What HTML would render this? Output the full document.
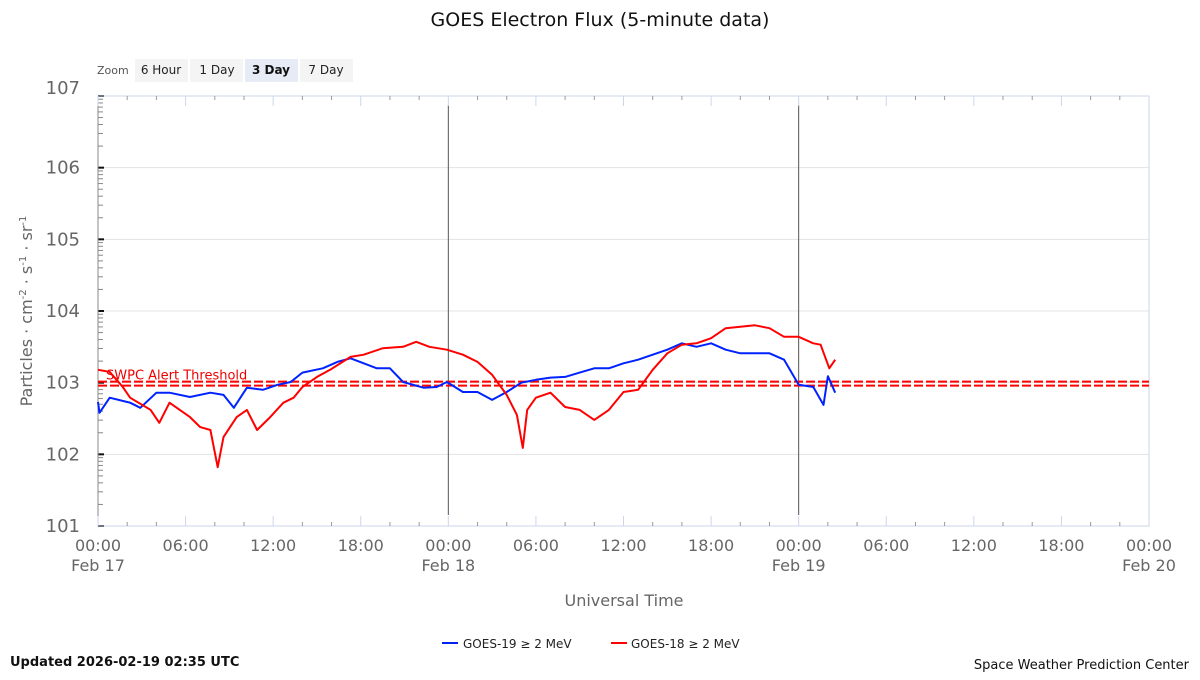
<!DOCTYPE html>
<html><head><meta charset="utf-8"><style>
body{margin:0;background:#fff;font-family:"Liberation Sans","DejaVu Sans",sans-serif}
svg text{font-family:"DejaVu Sans","Liberation Sans",sans-serif}
</style></head><body>
<svg id="c" width="1200" height="675" xmlns="http://www.w3.org/2000/svg">
<text x="600" y="26" text-anchor="middle" font-size="19" fill="#111">GOES Electron Flux (5-minute data)</text>
<g>
<text x="97" y="74" font-size="11" fill="#555">Zoom</text>
<rect x="135" y="59" width="53" height="23" fill="#f4f4f4"/>
<text x="161" y="74" font-size="12" text-anchor="middle" fill="#222">6 Hour</text>
<rect x="190" y="59" width="53" height="23" fill="#f4f4f4"/>
<text x="217" y="74" font-size="12" text-anchor="middle" fill="#222">1 Day</text>
<rect x="245" y="59" width="53" height="23" fill="#e6ebf5"/>
<text x="271" y="74" font-size="12" text-anchor="middle" font-weight="bold" fill="#111">3 Day</text>
<rect x="300" y="59" width="53" height="23" fill="#f4f4f4"/>
<text x="326" y="74" font-size="12" text-anchor="middle" fill="#222">7 Day</text>
</g>
<g id="grid"></g><g id="axes"></g><g id="series"></g>
<text transform="translate(32,311) rotate(-90)" text-anchor="middle" font-size="16" fill="#666">Particles · cm<tspan font-size="10" dy="-6">-2</tspan><tspan dy="6"> · s</tspan><tspan font-size="10" dy="-6">-1</tspan><tspan dy="6"> · sr</tspan><tspan font-size="10" dy="-6">-1</tspan></text>
<text x="624" y="606" text-anchor="middle" font-size="16" fill="#666">Universal Time</text>
<g>
<g><line x1="442" y1="643" x2="458" y2="643" stroke="#0022ee" stroke-width="2"/><text x="463" y="648" font-size="12" fill="#222">GOES-19 ≥ 2 MeV</text></g>
<g><line x1="611" y1="643" x2="627" y2="643" stroke="#ff0000" stroke-width="2"/><text x="631" y="648" font-size="12" fill="#222">GOES-18 ≥ 2 MeV</text></g>
</g>
<text x="10" y="666" font-size="13" font-weight="bold" fill="#111">Updated 2026-02-19 02:35 UTC</text>
<text x="1189" y="669" text-anchor="end" font-size="13" fill="#111">Space Weather Prediction Center</text>
</svg>
<script>
const yTickExps=[1,2,3,4,5,6,7];
const xTickHours=[0,6,12,18,24,30,36,42,48,54,60,66,72];
const xTickLabels=["00:00","06:00","12:00","18:00","00:00","06:00","12:00","18:00","00:00","06:00","12:00","18:00","00:00"];
const xDayLabels={0:"Feb 17",24:"Feb 18",48:"Feb 19",72:"Feb 20"};
const dayLines=[24,48];
const threshold=3;
const g18Hours=[0,0.8,1.7,2.2,3.6,4.2,4.9,6.3,7.0,7.7,8.2,8.6,9.5,10.2,10.9,11.8,12.7,13.4,14.0,15.0,15.9,17.3,18.2,19.5,20.9,21.8,22.7,23.9,25,26,27,28,28.7,29.1,29.4,30,31,32,33,34,35,36,37,38,39,40,41,42,43,44,45,46,47,48,49,49.5,50.1,50.5];
const g18Log=[3.18,3.15,2.94,2.79,2.62,2.44,2.72,2.52,2.38,2.34,1.82,2.24,2.52,2.62,2.34,2.52,2.72,2.79,2.94,3.08,3.18,3.36,3.39,3.48,3.50,3.57,3.50,3.46,3.39,3.29,3.11,2.83,2.55,2.09,2.62,2.79,2.86,2.66,2.62,2.48,2.62,2.87,2.90,3.18,3.41,3.53,3.55,3.62,3.76,3.78,3.80,3.76,3.64,3.64,3.55,3.53,3.20,3.32];
const g19Hours=[0,0.1,0.8,2.2,2.9,4.0,4.9,6.3,7.7,8.6,9.3,10.2,11.3,12.3,13.2,14.0,15.4,16.4,17.3,18.2,19.1,20.0,20.9,22.3,23.2,23.9,25,26,27,28,29,30,31,32,33,34,35,36,37,38,39,40,41,42,43,44,45,46,47,48,49,49.7,50.0,50.5];
const g19Log=[2.73,2.58,2.79,2.72,2.65,2.86,2.86,2.80,2.86,2.83,2.65,2.93,2.90,2.97,3.01,3.14,3.20,3.29,3.34,3.27,3.20,3.20,3.01,2.93,2.94,3.01,2.87,2.87,2.76,2.87,3.00,3.04,3.07,3.08,3.14,3.20,3.20,3.27,3.32,3.39,3.46,3.55,3.50,3.55,3.46,3.41,3.41,3.41,3.32,2.97,2.94,2.69,3.09,2.86];

const X0=98,X1=1149,Y0=526,Y1=96;
const xs=h=>X0+(h/72)*(X1-X0);
const ys=l=>Y0-(l-1)/6*(Y0-Y1);
const NS="http://www.w3.org/2000/svg";
function mk(t,a,p){const e=document.createElementNS(NS,t);for(const k in a)e.setAttribute(k,a[k]);p.appendChild(e);return e;}
const grid=document.getElementById('grid'),axes=document.getElementById('axes'),series=document.getElementById('series');
yTickExps.forEach(e=>{
  const y=ys(e);
  if(e>1&&e<7){const l=mk('line',{x1:X0,x2:X1,y1:y,y2:y,stroke:'#e3e3e3'},grid);
  
  }
  const t=mk('text',{x:80,y:y+(e==7?-2:6),'text-anchor':'end','font-size':18,fill:'#666'},axes);
  t.textContent='10'+e;
  
  
  mk('line',{x1:X0,x2:X0+6,y1:y,y2:y,stroke:'#111','stroke-width':2},axes);
  if(e<7)for(let m=2;m<10;m++){const yy=ys(e+Math.log10(m));mk('line',{x1:X0,x2:X0+5,y1:yy,y2:yy,stroke:'#888'},axes);}
});
mk('rect',{x:X0,y:Y1,width:X1-X0,height:Y0-Y1,fill:'none',stroke:'#ccd6eb'},axes);
mk('line',{x1:X0,x2:X0,y1:Y1,y2:Y0,stroke:'#888'},axes);
for(let h=0;h<=72;h+=2){const x=xs(h);const big=h%6==0;
  mk('line',{x1:x,x2:x,y1:Y1,y2:Y1+(big?10:4),stroke:big?'#ccd6eb':'#999'},axes);
  mk('line',{x1:x,x2:x,y1:Y0,y2:Y0-(big?10:4),stroke:big?'#ccd6eb':'#999'},axes);}
xTickHours.forEach((h,i)=>{
  const t=mk('text',{x:xs(h),y:551,'text-anchor':'middle','font-size':16,fill:'#666'},axes);
  t.textContent=xTickLabels[i];
  
  
  if(xDayLabels[h]){const d=mk('text',{x:xs(h),y:571,'text-anchor':'middle','font-size':16,fill:'#666'},axes);d.textContent=xDayLabels[h];
  
  }
});
dayLines.forEach(h=>{const l=mk('line',{x1:xs(h),x2:xs(h),y1:105,y2:515,stroke:'#555'},grid);
  
  });
const ty=ys(threshold);
[ty-1,ty+3].forEach(y=>{const l=mk('line',{x1:X0,x2:X1,y1:y,y2:y,stroke:'#ff0000','stroke-width':2,'stroke-dasharray':'9,3'},series);
  
  });
const tt=mk('text',{x:106,y:ty-3,'font-size':13,fill:'#ee0000'},series);tt.textContent='SWPC Alert Threshold';


function line(hs,ls,col,name){const d=hs.map((h,i)=>(i?'L':'M')+xs(h).toFixed(1)+','+ys(ls[i]).toFixed(1)).join('');
  const p=mk('path',{d:d,fill:'none',stroke:col,'stroke-width':2,'stroke-linejoin':'round'},series);
  
  }
line(g19Hours,g19Log,'#0022ff','goes19-series-line');
line(g18Hours,g18Log,'#ff0000','goes18-series-line');
</script>
</body></html>
